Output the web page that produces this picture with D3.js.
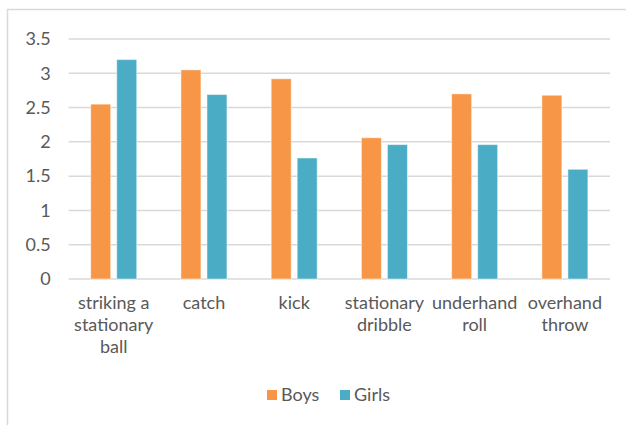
<html>
<head>
  <script src="https://d3js.org/d3.v7.min.js"></script>
  <style>
    body { margin: 0; background: #fff; }
    text { font-family: Lato, "Open Sans", sans-serif; fill: #595959; }
  </style>
</head>
<body>
  <div id="chart"></div>
  <script>
    const categories = ["striking a stationary ball", "catch", "kick", "stationary dribble", "underhand roll", "overhand throw"];
    const seriesNames = ["Boys", "Girls"];
    const boys = [2.55, 3.05, 2.92, 2.06, 2.70, 2.68];
    const girls = [3.20, 2.69, 1.765, 1.96, 1.96, 1.60];
    const yTicks = [0, 0.5, 1, 1.5, 2, 2.5, 3, 3.5];

    const colors = { Boys: "#F79646", Girls: "#4BACC6" };

    const w = 626;
    const h = 425;
    const margin = { left: 68.6, right: 16, top: 39, bottom: 146 };

    const svg = d3.select("#chart")
      .append("svg")
      .attr("width", w)
      .attr("height", h);

    // outer frame
    svg.append("rect")
      .attr("x", 7.5)
      .attr("y", 9.5)
      .attr("width", w + 20)
      .attr("height", h + 20)
      .style("fill", "none")
      .style("stroke", "#d9d9d9")
      .style("stroke-width", 1.5);

    const data = categories.map((c, i) => ({ cat: c, Boys: boys[i], Girls: girls[i] }));

    const x0 = d3.scaleBand()
      .domain(categories)
      .range([margin.left, w - margin.right])
      .paddingInner(0.49)
      .paddingOuter(0.245);

    const x1 = d3.scaleBand()
      .domain(seriesNames)
      .range([0, x0.bandwidth()])
      .paddingInner(0.2308);

    const yScale = d3.scaleLinear()
      .domain([0, 3.5])
      .range([h - margin.bottom, margin.top]);

    // gridlines
    svg.append("g")
      .selectAll("line")
      .data(yTicks)
      .enter()
      .append("line")
      .attr("x1", margin.left)
      .attr("x2", w - margin.right)
      .attr("y1", d => yScale(d))
      .attr("y2", d => yScale(d))
      .style("stroke", "#d9d9d9")
      .style("stroke-width", 1.5);

    // y labels
    const yAxis = d3.axisLeft(yScale)
      .tickValues(yTicks)
      .tickSize(0)
      .tickPadding(18)
      .tickFormat(d3.format("~g"));

    const gy = svg.append("g")
      .attr("transform", "translate(" + margin.left + ",0)")
      .call(yAxis);
    gy.select(".domain").remove();
    gy.selectAll("text")
      .style("font-size", "18px")
      .style("font-family", "Lato, sans-serif")
      .attr("fill", "#595959");

    // bars
    const groups = svg.selectAll(".grp")
      .data(data)
      .enter()
      .append("g")
      .attr("class", "grp")
      .attr("transform", d => "translate(" + x0(d.cat) + ",0)");

    groups.selectAll("rect")
      .data(d => seriesNames.map(s => ({ key: s, value: d[s] })))
      .enter()
      .append("rect")
      .attr("x", d => x1(d.key))
      .attr("width", x1.bandwidth())
      .attr("y", d => yScale(d.value))
      .attr("height", d => yScale(0) - yScale(d.value))
      .style("fill", d => colors[d.key])
      .style("stroke", "#fff")
      .style("stroke-opacity", 0.5)
      .style("stroke-width", 1);

    // x labels
    const xAxis = d3.axisBottom(x0).tickSize(0).tickPadding(0);
    const gx = svg.append("g")
      .attr("transform", "translate(0," + yScale(0) + ")")
      .call(xAxis);
    gx.select(".domain").remove();
    gx.selectAll("text")
      .attr("dy", null)
      .style("font-size", "18px")
      .style("font-family", "Lato, sans-serif")
      .attr("fill", "#595959")
      .call(wrap, x0.step() - 1);

    function wrap(texts, width) {
      texts.each(function() {
        const text = d3.select(this);
        const words = text.text().split(/\s+/);
        text.text(null);
        let line = [];
        let lineNo = 0;
        let tspan = text.append("tspan").attr("x", 0).attr("y", 30);
        words.forEach(word => {
          line.push(word);
          tspan.text(line.join(" "));
          if (tspan.node().getComputedTextLength() > width && line.length > 1) {
            line.pop();
            tspan.text(line.join(" "));
            line = [word];
            lineNo++;
            tspan = text.append("tspan").attr("x", 0).attr("y", 30 + lineNo * 22).text(word);
          }
        });
      });
    }

    // legend
    const legend = svg.selectAll(".legend")
      .data(seriesNames)
      .enter()
      .append("g")
      .attr("class", "legend")
      .attr("transform", (d, i) => "translate(" + (267 + i * 73) + ",390)");

    legend.append("rect")
      .attr("width", 10)
      .attr("height", 10)
      .style("fill", d => colors[d]);

    legend.append("text")
      .attr("x", 14)
      .attr("y", 11)
      .style("font-size", "18px")
      .text(d => d);
  </script>
</body>
</html>
